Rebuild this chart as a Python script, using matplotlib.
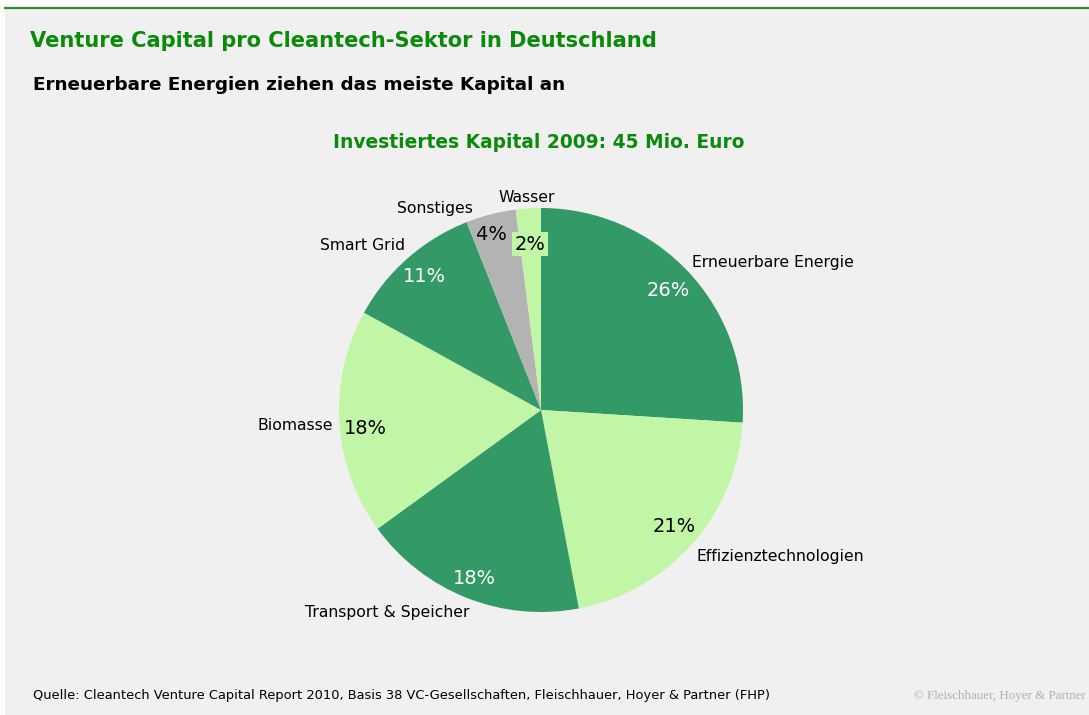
import matplotlib
matplotlib.use('Agg')
import matplotlib.pyplot as plt
from matplotlib.patches import Rectangle
from matplotlib.lines import Line2D

# ---- data ----
categories = ['Erneuerbare Energie', 'Effizienztechnologien', 'Transport & Speicher',
              'Biomasse', 'Smart Grid', 'Sonstiges', 'Wasser']
shares = [26, 21, 18, 18, 11, 4, 2]
pct_labels = ['26%', '21%', '18%', '18%', '11%', '4%', '2%']

title = 'Venture Capital pro Cleantech-Sektor in Deutschland'
subtitle = 'Erneuerbare Energien ziehen das meiste Kapital an'
chart_title = 'Investiertes Kapital 2009: 45 Mio. Euro'
source = 'Quelle: Cleantech Venture Capital Report 2010, Basis 38 VC-Gesellschaften, Fleischhauer, Hoyer & Partner (FHP)'
copyright_txt = '\u00a9 Fleischhauer, Hoyer & Partner'

# ---- style ----
DARK = '#339966'
LIGHT = '#c1f6a6'
GRAY = '#b3b3b3'
colors = [DARK, LIGHT, DARK, LIGHT, DARK, GRAY, LIGHT]
pct_colors = ['white', 'black', 'white', 'black', 'white', 'black', 'black']
TITLE_GREEN = '#0a8a0a'

W, H = 1089, 715
fig = plt.figure(figsize=(W / 100, H / 100), dpi=100)
fig.patch.set_facecolor('white')
ax = fig.add_axes([0, 0, 1, 1])
ax.set_xlim(0, W)
ax.set_ylim(0, H)
ax.set_aspect('equal')
ax.axis('off')

def Y(py):
    return H - py

# background panel and top rule
ax.add_patch(Rectangle((5, 0), W - 5, Y(9), facecolor='#f0f0f0', edgecolor='none', zorder=0))
ax.add_line(Line2D([5, W], [Y(8), Y(8)], color='#2e8b2e', lw=1.6, zorder=1))

fig.canvas.draw()
renderer = fig.canvas.get_renderer()

def fit(t, target_w):
    bb = t.get_window_extent(renderer=renderer)
    t.set_fontsize(t.get_fontsize() * target_w / bb.width)

t = ax.text(30, Y(41), title, fontsize=16, fontweight='bold', color=TITLE_GREEN,
            ha='left', va='center', family='DejaVu Sans')
fit(t, 631)
t = ax.text(33, Y(85), subtitle, fontsize=12, fontweight='bold', color='black',
            ha='left', va='center', family='DejaVu Sans')
fit(t, 532)
t = ax.text(539, Y(143), chart_title, fontsize=13, fontweight='bold', color=TITLE_GREEN,
            ha='center', va='center', family='DejaVu Sans')
fit(t, 409)
t = ax.text(33, Y(696), source, fontsize=9, color='black', ha='left', va='center',
            family='DejaVu Sans')
fit(t, 738)
t = ax.text(1086, Y(696), copyright_txt, fontsize=8, color='#b0b0b0', ha='right', va='center',
            family='Liberation Serif')
fit(t, 172)

# ---- pie ----
cx, cy, r = 541, Y(410), 202
wedges, texts, autotexts = ax.pie(shares, colors=colors, startangle=90, counterclock=False,
                                  center=(cx, cy), radius=r, labels=categories,
                                  autopct='%1.0f%%', frame=True,
                                  wedgeprops=dict(edgecolor='none', linewidth=0))
ax.set_xlim(0, W)
ax.set_ylim(0, H)
ax.axis('off')

label_pos = [(692, 262, 'left'), (696, 556, 'left'), (387, 612, 'center'), (333, 425, 'right'),
             (362, 246, 'center'), (435, 208, 'center'), (527, 197, 'center')]
pct_pos = [(668, 290), (674, 527), (474, 579), (365, 428), (424, 277), (491, 234), (530, 244)]

label_fs = 12.0
for txt, (px, py, ha) in zip(texts, label_pos):
    txt.set_position((px, Y(py)))
    txt.set_ha(ha)
    txt.set_va('center')
    txt.set_fontsize(label_fs)
    txt.set_family('DejaVu Sans')
fig.canvas.draw()
fit(texts[0], 161)
fs = texts[0].get_fontsize()
for txt in texts:
    txt.set_fontsize(fs)

for i, (at, (px, py)) in enumerate(zip(autotexts, pct_pos)):
    at.set_text(pct_labels[i])
    at.set_position((px, Y(py)))
    at.set_ha('center')
    at.set_va('center')
    at.set_color(pct_colors[i])
    at.set_family('DejaVu Sans')
    at.set_fontsize(13)
fig.canvas.draw()
fit(autotexts[0], 43)
pfs = autotexts[0].get_fontsize()
for at in autotexts:
    at.set_fontsize(pfs)
autotexts[6].set_bbox(dict(facecolor=LIGHT, edgecolor='none', pad=1.5))

fig.savefig('out.png', dpi=100, facecolor='white')
